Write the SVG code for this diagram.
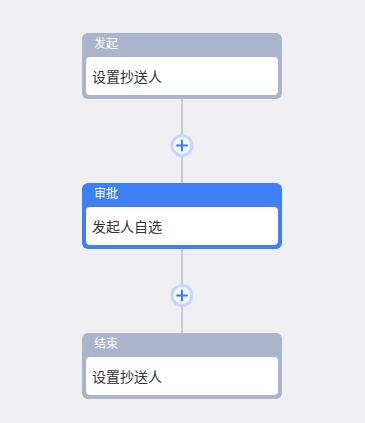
<svg xmlns="http://www.w3.org/2000/svg" width="365" height="423" viewBox="0 0 365 423">
<style>
.t{font-family:"Noto Sans CJK SC","Noto Sans",sans-serif;font-size:12px;fill:#ffffff}
.b{font-family:"Noto Sans CJK SC","Noto Sans",sans-serif;font-size:14px;fill:#333333}
.gray{fill:#aab5cc}
.blue{fill:#3f80f5}
.in{fill:#ffffff}
.ln{stroke:#c8c8cc;stroke-width:2;fill:none}
.ring{fill:#f2f6ff;stroke:#c6d6fb;stroke-width:3}
.plus{stroke:#3b7cf5;stroke-width:2;stroke-linecap:round}
</style>
<rect width="365" height="423" fill="#f0f0f2"/>
<g id="connectors">
<line class="ln" x1="182" y1="99" x2="182" y2="183"/>
<line class="ln" x1="182" y1="249" x2="182" y2="333"/>
<circle class="ring" cx="182" cy="145.5" r="10"/>
<line class="plus" x1="177" y1="145.5" x2="187" y2="145.5"/>
<line class="plus" x1="182" y1="140.5" x2="182" y2="150.5"/>
<circle class="ring" cx="182" cy="295.5" r="10"/>
<line class="plus" x1="177" y1="295.5" x2="187" y2="295.5"/>
<line class="plus" x1="182" y1="290.5" x2="182" y2="300.5"/>
</g>
<g id="node-start">
<rect class="gray" x="82" y="33" width="200" height="66" rx="6"/>
<rect class="in" x="86" y="57" width="192" height="38" rx="4"/>
<text class="t" x="94" y="47.5">发起</text>
<text class="b" x="92" y="81.5">设置抄送人</text>
</g>
<g id="node-approve">
<rect class="blue" x="82" y="183" width="200" height="66" rx="6"/>
<rect class="in" x="86" y="207" width="192" height="38" rx="4"/>
<text class="t" x="94" y="197.5">审批</text>
<text class="b" x="92" y="231.5">发起人自选</text>
</g>
<g id="node-end">
<rect class="gray" x="82" y="333" width="200" height="66" rx="6"/>
<rect class="in" x="86" y="357" width="192" height="38" rx="4"/>
<text class="t" x="94" y="347.5">结束</text>
<text class="b" x="92" y="381.5">设置抄送人</text>
</g>
</svg>
